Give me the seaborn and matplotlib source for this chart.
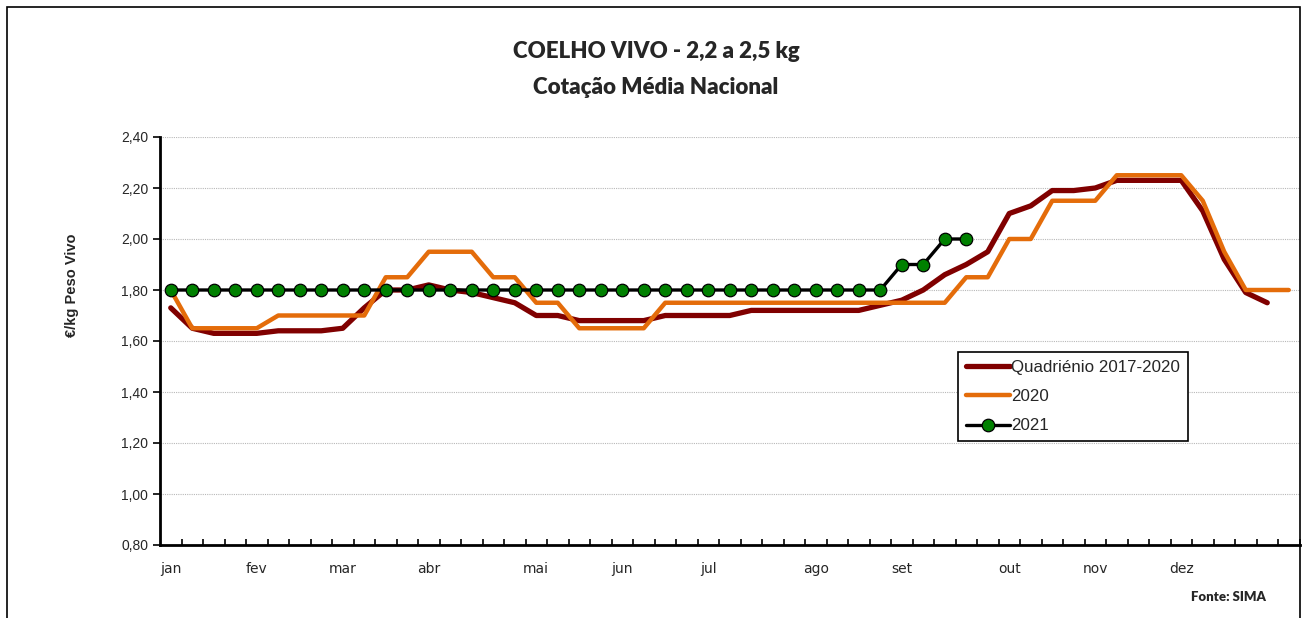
import matplotlib
matplotlib.use("Agg")
import matplotlib.pyplot as plt
import pandas as pd
import seaborn as sns
from matplotlib.patches import Rectangle
from matplotlib.ticker import FuncFormatter, FixedLocator

# Data (weekly prices, EUR/kg live weight)
quadrienio = [1.73, 1.65, 1.63, 1.63, 1.63, 1.64, 1.64, 1.64, 1.65, 1.73,
              1.80, 1.80, 1.82, 1.80, 1.79, 1.77, 1.75, 1.70, 1.70, 1.68,
              1.68, 1.68, 1.68, 1.70, 1.70, 1.70, 1.70, 1.72, 1.72, 1.72,
              1.72, 1.72, 1.72, 1.74, 1.76, 1.80, 1.86, 1.90, 1.95, 2.10,
              2.13, 2.19, 2.19, 2.20, 2.23, 2.23, 2.23, 2.23, 2.11, 1.92,
              1.79, 1.75]
ano_2020 = [1.80, 1.65, 1.65, 1.65, 1.65, 1.70, 1.70, 1.70, 1.70, 1.70,
            1.85, 1.85, 1.95, 1.95, 1.95, 1.85, 1.85, 1.75, 1.75, 1.65,
            1.65, 1.65, 1.65, 1.75, 1.75, 1.75, 1.75, 1.75, 1.75, 1.75,
            1.75, 1.75, 1.75, 1.75, 1.75, 1.75, 1.75, 1.85, 1.85, 2.00,
            2.00, 2.15, 2.15, 2.15, 2.25, 2.25, 2.25, 2.25, 2.15, 1.95,
            1.80, 1.80, 1.80]
ano_2021 = [1.80] * 34 + [1.90, 1.90, 2.00, 2.00]

n_weeks = 53
month_labels = ["jan", "fev", "mar", "abr", "mai", "jun",
                "jul", "ago", "set", "out", "nov", "dez"]
month_first_week = [0, 4, 8, 12, 17, 21, 25, 30, 34, 39, 43, 47]
y_ticks = [0.80, 1.00, 1.20, 1.40, 1.60, 1.80, 2.00, 2.20, 2.40]

sns.set_style("white")
plt.rcParams["font.family"] = ["Liberation Sans", "DejaVu Sans"]

fig = plt.figure(figsize=(13.02, 6.18), dpi=100)
ax = fig.add_axes([160 / 1302, 73 / 618, 1139.5 / 1302, 408 / 618])

df_q = pd.DataFrame({"week": range(len(quadrienio)), "value": quadrienio})
df_20 = pd.DataFrame({"week": range(len(ano_2020)), "value": ano_2020})
df_21 = pd.DataFrame({"week": range(len(ano_2021)), "value": ano_2021})

sns.lineplot(data=df_q, x="week", y="value", ax=ax, color="#800000",
             lw=3.8, label="Quadriénio 2017-2020", solid_capstyle="round")
sns.lineplot(data=df_20, x="week", y="value", ax=ax, color="#E46C0A",
             lw=3.2, label="2020", solid_capstyle="round")
sns.lineplot(data=df_21, x="week", y="value", ax=ax, color="black",
             lw=2.4, marker="o", markersize=9, markerfacecolor="#008000",
             markeredgecolor="black", markeredgewidth=0.9, label="2021")

ax.set_xlim(-0.5, n_weeks - 0.5)
ax.set_ylim(0.80, 2.40)
ax.set_yticks(y_ticks)
ax.yaxis.set_major_formatter(FuncFormatter(lambda v, p: f"{v:.2f}".replace(".", ",")))
ax.set_xticks(month_first_week)
ax.set_xticklabels(month_labels)
ax.xaxis.set_minor_locator(FixedLocator([w - 0.5 for w in range(1, n_weeks + 1)]))
ax.tick_params(axis="x", which="major", length=0, pad=12, labelsize=10,
               labelfontfamily="DejaVu Sans")
ax.tick_params(axis="x", which="minor", direction="in", length=4.5, width=1.2,
               color="black", bottom=True)
ax.tick_params(axis="y", which="major", direction="out", length=5, width=1.2,
               color="black", left=True, labelsize=10)
ax.set_xlabel("")
ax.set_ylabel("")

ax.yaxis.grid(True, color="#b8b8b8", linestyle=(0, (1, 1)), linewidth=0.8)
ax.xaxis.grid(False)
for s in ["top", "right"]:
    ax.spines[s].set_visible(False)
for s in ["left", "bottom"]:
    ax.spines[s].set_color("black")
    ax.spines[s].set_linewidth(2)

leg = ax.legend(loc="upper left", bbox_to_anchor=(958 / 1302, 1 - 352 / 618),
                bbox_transform=fig.transFigure, frameon=True, fancybox=False,
                framealpha=1, edgecolor="black", fontsize=12.2,
                handlelength=2.6, handletextpad=0.1, borderaxespad=0,
                borderpad=0.45, labelspacing=0.85)
leg.get_frame().set_linewidth(1.2)

fig.text(656 / 1302, 1 - 52 / 618, "COELHO VIVO - 2,2 a 2,5 kg", ha="center",
         va="center", fontsize=16, fontweight="heavy", family="Lato")
fig.text(656 / 1302, 1 - 87 / 618, "Cotação Média Nacional", ha="center",
         va="center", fontsize=16, fontweight="heavy", family="Lato")
fig.text(72 / 1302, 1 - 285 / 618, "€/kg Peso Vivo", rotation=90, ha="center",
         va="center", fontsize=10.5, fontweight="bold")
fig.text(1266 / 1302, 1 - 597 / 618, "Fonte: SIMA", ha="right", va="center",
         fontsize=9.5, fontweight="heavy", family="Lato")

fig.patches.append(Rectangle((7 / 1302, -0.05), 1293 / 1302, 1.05 - 7 / 618,
                             transform=fig.transFigure, fill=False,
                             edgecolor="black", linewidth=1.2))

fig.savefig("out.png", dpi=100)
